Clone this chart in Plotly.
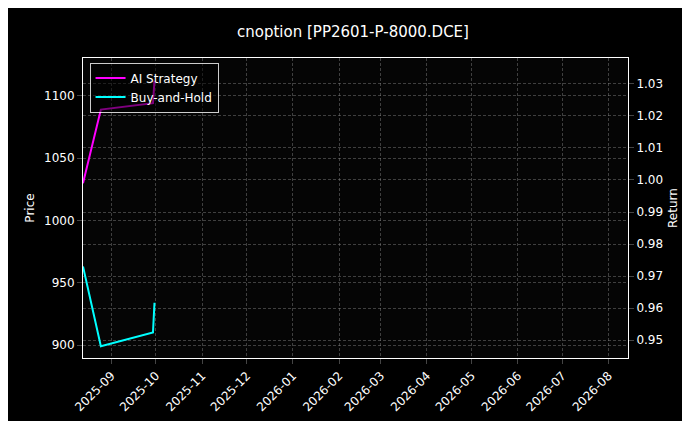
import plotly.graph_objects as go

dates = ["2025-08-13", "2025-08-25", "2025-09-29", "2025-09-30"]
ai_return = [0.999, 1.022, 1.024, 1.031]
bh_price = [963, 899, 910, 934]
tick_vals = ["2025-09-01", "2025-10-01", "2025-11-01", "2025-12-01", "2026-01-01", "2026-02-01",
             "2026-03-01", "2026-04-01", "2026-05-01", "2026-06-01", "2026-07-01", "2026-08-01"]
tick_text = [t[:7] for t in tick_vals]

grid = dict(showgrid=True, gridcolor="rgba(150,150,150,0.4)", griddash="3px,2px", gridwidth=0.5)

fig = go.Figure()
fig.add_trace(go.Scatter(x=dates, y=ai_return, name="AI Strategy", yaxis="y2",
                         mode="lines", line=dict(color="#ff00ff", width=2)))
fig.add_trace(go.Scatter(x=dates, y=bh_price, name="Buy-and-Hold",
                         mode="lines", line=dict(color="#00ffff", width=2)))

fig.update_layout(
    width=690, height=421,
    paper_bgcolor="black", plot_bgcolor="#050505",
    font=dict(family="DejaVu Sans", color="white", size=12),
    title=dict(text="cnoption [PP2601-P-8000.DCE]", x=0.5, y=0.955, xanchor="center", font=dict(size=15)),
    margin=dict(l=75, r=70, t=50, b=71, autoexpand=False),
    xaxis=dict(type="date", range=["2025-08-13", "2026-08-14"], tickvals=tick_vals, ticktext=tick_text,
               tickangle=-45, ticks="outside", showline=True, linecolor="white", mirror=True,
               zeroline=False, automargin=False, **grid),
    yaxis=dict(title=dict(text="Price", standoff=6, font=dict(size=12)), range=[889.6, 1130.4], dtick=50,
               ticks="outside", showline=True, linecolor="white", zeroline=False, automargin=False, **grid),
    yaxis2=dict(title=dict(text="Return", standoff=6, font=dict(size=12)), range=[0.9444, 1.0381],
                dtick=0.01, tickformat=".2f", overlaying="y", side="right", ticks="outside",
                showline=True, linecolor="white", zeroline=False, automargin=False, **grid),
    legend=dict(x=0.012, y=0.985, xanchor="left", yanchor="top", bgcolor="rgba(0,0,0,0.5)",
                bordercolor="rgba(255,255,255,0.8)", borderwidth=1, font=dict(size=12)),
)

fig.write_html("out.html")
